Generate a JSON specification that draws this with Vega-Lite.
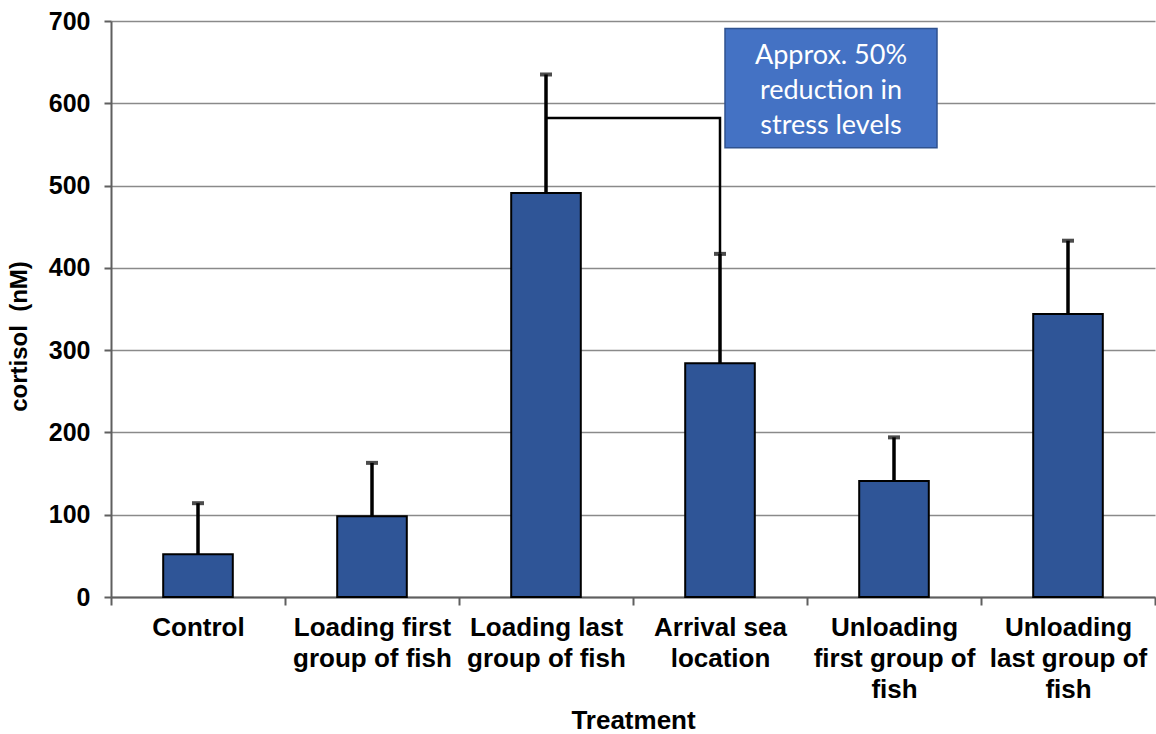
{
  "$schema": "https://vega.github.io/schema/vega-lite/v6.json",
  "width": 1044,
  "height": 576,
  "autosize": "none",
  "padding": {"left": 111, "top": 21, "right": 1, "bottom": 137},
  "config": {
    "view": {"stroke": null},
    "font": "Liberation Sans",
    "axis": {
      "labelFont": "Liberation Sans",
      "labelFontWeight": "bold",
      "labelFontSize": 25,
      "labelColor": "#000000",
      "titleFont": "Liberation Sans",
      "titleFontWeight": "bold",
      "titleFontSize": 24,
      "titleColor": "#000000",
      "domainColor": "#5f5f5f",
      "domainWidth": 2,
      "tickColor": "#5f5f5f",
      "tickWidth": 2
    }
  },
  "datasets": {
    "main": [
      {"Treatment": "Control", "cortisol": 52, "upper": 114},
      {"Treatment": "Loading first group of fish", "cortisol": 98, "upper": 163},
      {"Treatment": "Loading last group of fish", "cortisol": 491, "upper": 635},
      {"Treatment": "Arrival sea location", "cortisol": 284, "upper": 417},
      {"Treatment": "Unloading first group of fish", "cortisol": 141, "upper": 194},
      {"Treatment": "Unloading last group of fish", "cortisol": 344, "upper": 433}
    ],
    "bracket": [
      {"Treatment": "Loading last group of fish", "cortisol": 582, "step": 1},
      {"Treatment": "Arrival sea location", "cortisol": 582, "step": 2},
      {"Treatment": "Arrival sea location", "cortisol": 417, "step": 3}
    ],
    "note": [
      {"Treatment": "Unloading first group of fish", "top": 691, "bottom": 546, "first": 658, "label": ["Approx. 50%", "reduction in", "stress levels"]}
    ]
  },
  "encoding": {
    "x": {
      "field": "Treatment",
      "type": "nominal",
      "scale": {
        "domain": ["Control", "Loading first group of fish", "Loading last group of fish", "Arrival sea location", "Unloading first group of fish", "Unloading last group of fish"],
        "paddingInner": 0,
        "paddingOuter": 0
      },
      "axis": {
        "title": "Treatment",
        "titleFontSize": 26,
        "labelFontSize": 26,
        "labelAngle": 0,
        "tickBand": "extent",
        "tickSize": 8,
        "labelPadding": 9,
        "labelLineHeight": 31,
        "labelLimit": 0,
        "labelOverlap": false,
        "titlePadding": 5,
        "grid": false,
        "labelExpr": "datum.value == 'Loading first group of fish' ? ['Loading first', 'group of fish'] : datum.value == 'Loading last group of fish' ? ['Loading last', 'group of fish'] : datum.value == 'Arrival sea location' ? ['Arrival sea', 'location'] : datum.value == 'Unloading first group of fish' ? ['Unloading', 'first group of', 'fish'] : datum.value == 'Unloading last group of fish' ? ['Unloading', 'last group of', 'fish'] : datum.value"
      }
    }
  },
  "layer": [
    {
      "data": {"name": "main"},
      "mark": {"type": "bar", "width": {"band": 0.4}, "color": "#2f5597", "stroke": "#000000", "strokeWidth": 2},
      "encoding": {
        "y": {
          "field": "cortisol",
          "type": "quantitative",
          "scale": {"domain": [0, 700], "nice": false},
          "axis": {
            "title": "cortisol\u00a0 (nM)",
            "titleY": 315,
            "values": [0, 100, 200, 300, 400, 500, 600, 700],
            "grid": true,
            "gridColor": "#8a8a8a",
            "gridWidth": 1.5,
            "tickSize": 7,
            "labelPadding": 14,
            "titlePadding": 17
          }
        }
      }
    },
    {
      "data": {"name": "main"},
      "mark": {"type": "rule", "color": "#000000", "strokeWidth": 3.5},
      "encoding": {
        "y": {"field": "cortisol", "type": "quantitative"},
        "y2": {"field": "upper"}
      }
    },
    {
      "data": {"name": "main"},
      "mark": {"type": "tick", "color": "#000000", "thickness": 4, "size": 12},
      "encoding": {
        "y": {"field": "upper", "type": "quantitative"}
      }
    },
    {
      "data": {"name": "bracket"},
      "mark": {"type": "line", "color": "#000000", "strokeWidth": 2.5},
      "encoding": {
        "y": {"field": "cortisol", "type": "quantitative"},
        "order": {"field": "step", "type": "quantitative"}
      }
    },
    {
      "data": {"name": "note"},
      "mark": {"type": "bar", "width": 212, "xOffset": -63, "color": "#4472c4", "stroke": "#2f528f", "strokeWidth": 1.5},
      "encoding": {
        "y": {"field": "top", "type": "quantitative"},
        "y2": {"field": "bottom"}
      }
    },
    {
      "data": {"name": "note"},
      "mark": {"type": "text", "xOffset": -63, "color": "#ffffff", "font": "Lato", "fontSize": 27, "lineHeight": 35, "align": "center", "baseline": "middle"},
      "encoding": {
        "y": {"field": "first", "type": "quantitative"},
        "text": {"field": "label"}
      }
    }
  ]
}
